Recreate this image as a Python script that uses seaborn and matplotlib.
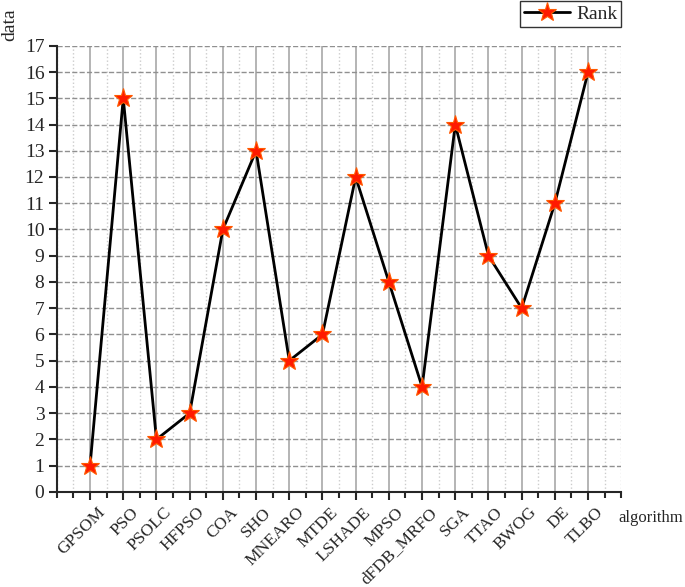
import matplotlib.pyplot as plt
import matplotlib.transforms as mtransforms
import seaborn as sns
import pandas as pd
import numpy as np
from matplotlib.ticker import MultipleLocator

algorithms = ['GPSOM', 'PSO', 'PSOLC', 'HFPSO', 'COA', 'SHO', 'MNEARO', 'MTDE',
              'LSHADE', 'MPSO', 'dFDB_MRFO', 'SGA', 'TTAO', 'BWOG', 'DE', 'TLBO']
rank = [1, 15, 2, 3, 10, 13, 5, 6, 12, 8, 4, 14, 9, 7, 11, 16]

df = pd.DataFrame({
    'pos': np.arange(1, len(algorithms) + 1),
    'algorithm': algorithms,
    'Rank': rank
})

sns.set_style('ticks')
plt.rcParams['font.family'] = ['Liberation Serif', 'DejaVu Serif']

fig = plt.figure(figsize=(6.85, 5.87), dpi=100)
ax = fig.add_axes([0.083, 0.162, 0.824, 0.760])

sns.lineplot(data=df, x='pos', y='Rank', ax=ax, color='black', linewidth=2,
             marker='*', markersize=14, markerfacecolor='#ff1a00',
             markeredgecolor='#ff5a00', markeredgewidth=0.8, label='Rank')

ax.set_xlim(0, 17)
ax.set_ylim(0, 17)
ax.set_xticks(df['pos'])
ax.set_xticklabels(algorithms, rotation=45, ha='right', va='top',
                   rotation_mode='anchor', fontsize=12.5)
ax.xaxis.set_minor_locator(MultipleLocator(0.5))
ax.yaxis.set_major_locator(MultipleLocator(1))
ax.tick_params(axis='y', labelsize=14, width=1.5, length=6, pad=3)
ax.tick_params(axis='x', which='major', width=1.5, length=6, pad=3)
ax.tick_params(axis='x', which='minor', width=1.5, length=4)

# shift tick labels a little to the right, like the original
shift = mtransforms.ScaledTranslation(7 / 100, 0, fig.dpi_scale_trans)
for lab in ax.get_xticklabels():
    lab.set_transform(lab.get_transform() + shift)

ax.grid(axis='x', which='major', color='#a8a8a8', linestyle='-', linewidth=1.2)
ax.grid(axis='x', which='minor', color='#cccccc', linestyle=':', linewidth=1)
ax.grid(axis='y', which='major', color='#909090', linestyle='--', linewidth=1)
ax.set_axisbelow(True)

for s in ['top', 'right']:
    ax.spines[s].set_visible(False)
ax.spines['left'].set_linewidth(1.5)
ax.spines['bottom'].set_linewidth(1.5)

ax.set_xlabel('')
ax.set_ylabel('')
fig.text(0.002, 0.985, 'data', rotation=90, fontsize=14, ha='left', va='top')
fig.text(0.997, 0.117, 'algorithm', fontsize=12, ha='right', va='center')

leg = ax.legend(loc='upper right', bbox_to_anchor=(1.0, 1.10), fontsize=14,
                frameon=True, fancybox=False, edgecolor='black', borderaxespad=0,
                handlelength=2.4, borderpad=0.2, handletextpad=0.3)
leg.get_frame().set_linewidth(1.0)

plt.savefig('out.png', dpi=100)
plt.close()
